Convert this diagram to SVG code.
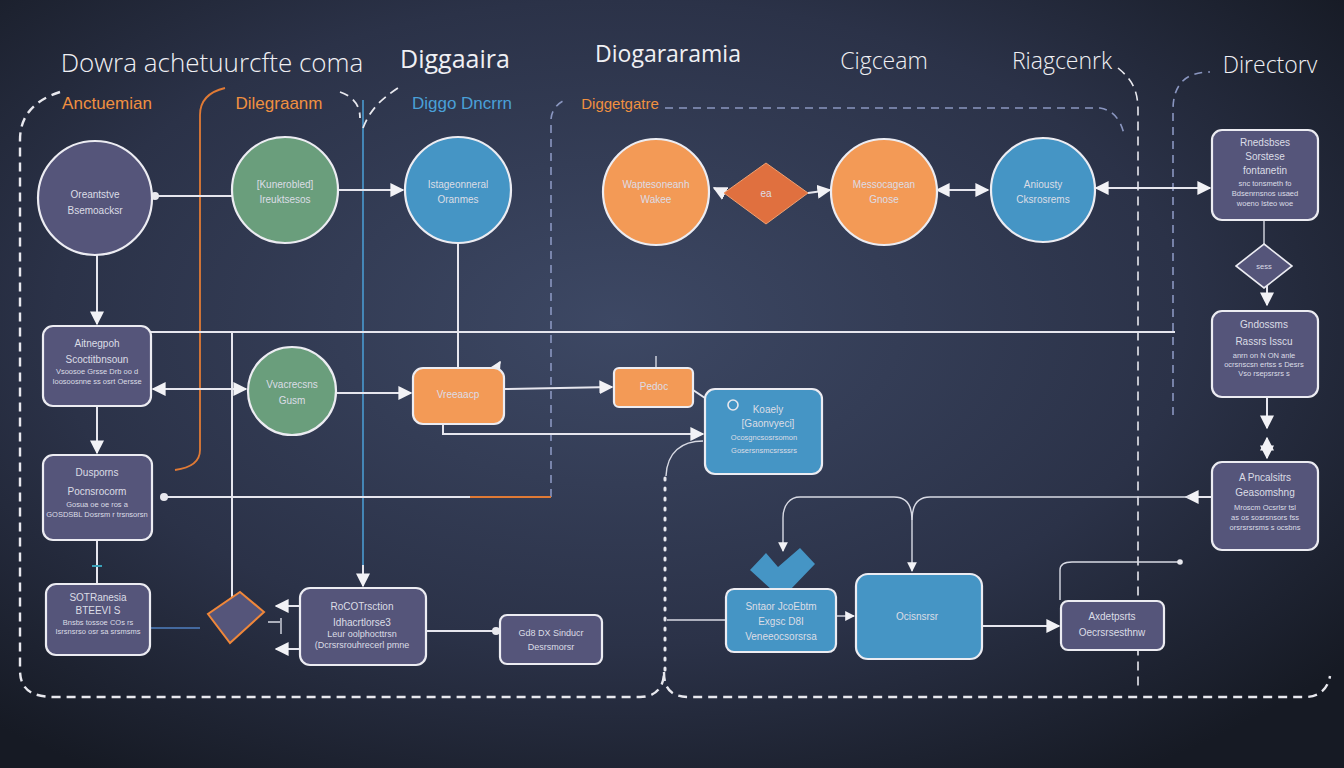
<svg xmlns="http://www.w3.org/2000/svg" width="1344" height="768" viewBox="0 0 1344 768">
<defs>
<radialGradient id="bg" cx="0.46" cy="0.42" r="0.7">
<stop offset="0" stop-color="#3d4864"/>
<stop offset="0.6" stop-color="#2b3248"/>
<stop offset="1" stop-color="#161a24"/>
</radialGradient>
<marker id="ah" viewBox="0 0 10 10" refX="9" refY="5" markerWidth="7" markerHeight="7" orient="auto-start-reverse">
<path d="M0,0 L10,5 L0,10 z" fill="#f2f2f6"/>
</marker>
<marker id="dot" viewBox="0 0 10 10" refX="5" refY="5" markerWidth="5" markerHeight="5">
<circle cx="5" cy="5" r="4" fill="#e8e8ee"/>
</marker>
</defs>
<style>
.nd{stroke:#ececf2;stroke-width:2.2}
.pu{fill:#55557a}
.gr{fill:#6a9e7c}
.bl{fill:#4595c5}
.or{fill:#f39a56}
.od{fill:#e0703f}
.ln{fill:none;stroke:#e6e6ee;stroke-width:2}
.th{fill:none;stroke:#d8dae4;stroke-width:1.4}
.ds{fill:none;stroke:#e8e8ee;stroke-width:2.4;stroke-dasharray:9 6}
.dt{fill:none;stroke:#e8e8ee;stroke-width:3;stroke-dasharray:2 8;stroke-linecap:round}
.dsb{fill:none;stroke:#8a96c0;stroke-width:1.6;stroke-dasharray:8 6}
.ttl{font-family:"Open Sans","DejaVu Sans",sans-serif;font-weight:300;fill:#f0f0f4;font-size:25px;text-anchor:middle}
.sub{font-family:"Liberation Sans",Arial,sans-serif;font-size:17px;text-anchor:middle}
.t1{font-family:"Liberation Sans",Arial,sans-serif;font-size:10px;fill:#dcdde6;text-anchor:middle}
.t2{font-family:"Liberation Sans",Arial,sans-serif;font-size:7.5px;fill:#dcdde6;text-anchor:middle}
</style>
<rect width="1344" height="768" fill="url(#bg)"/>

<g id="titles">
<text class="ttl" x="212" y="72" style="font-size:26px">Dowra achetuurcfte coma</text>
<text class="ttl" x="455" y="68" style="font-weight:400">Diggaaira</text>
<text class="ttl" x="668" y="62" style="font-weight:400;font-size:23px">Diogararamia</text>
<text class="ttl" x="884" y="69" style="font-size:23px">Cigceam</text>
<text class="ttl" x="1062" y="69" style="font-size:23px">Riagcenrk</text>
<text class="ttl" x="1270" y="73" style="font-size:23px">Directorv</text>
<text class="sub" x="107" y="109" fill="#f09040">Anctuemian</text>
<text class="sub" x="279" y="109" fill="#f09040">Dilegraanm</text>
<text class="sub" x="462" y="109" fill="#4aa0d8">Diggo Dncrrn</text>
<text class="sub" x="620" y="109" fill="#f09040" style="font-size:15px">Diggetgatre</text>
</g>

<g id="containers">
<path class="ds" d="M60,92 C35,100 20,115 20,140 L20,670 C20,690 32,697 55,697 L640,697 C655,697 664,688 664,672"/>
<path class="dt" d="M665,478 L665,672"/>
<path class="ds" d="M664,672 C664,690 672,697 690,697 L1305,697 C1320,697 1328,688 1330,676"/>
<path class="ds" d="M1118,68 C1130,78 1138,88 1138,110 L1138,690" style="stroke-width:1.6"/>
<path class="dsb" d="M1173,415 L1173,110 C1173,85 1185,72 1210,72"/>
<path class="dsb" d="M665,108 L1100,108 C1112,110 1120,118 1124,134"/>
<path class="dsb" d="M551,497 L551,120 C551,112 556,104 565,100"/>
<path d="M470,497 L551,497" fill="none" stroke="#e07a35" stroke-width="2"/>
<path class="ln" d="M363,100 L363,585" style="stroke:#4a9ad0;stroke-width:1.6"/>
<path class="ds" d="M363,128 C370,110 380,100 398,88" style="stroke-width:1.8"/>
<path d="M225,88 C208,92 200,102 200,115 L200,450 C200,462 190,468 175,470" fill="none" stroke="#e07a35" stroke-width="1.8"/>
<path class="ds" d="M340,92 C352,96 360,104 360,118" style="stroke-width:1.8"/>
<path class="th" d="M703,441 C682,441 667,452 666,476"/>
</g>

<g id="connectors">
<path class="ln" d="M232,196 L155,196" marker-end="url(#dot)"/>
<path class="ln" d="M338,190 L403,190" marker-end="url(#ah)"/>
<path class="ln" d="M97,255 L97,324" marker-end="url(#ah)"/>
<path class="ln" d="M97,406 L97,453" marker-end="url(#ah)"/>
<path class="ln" d="M97,540 L97,584"/>
<path d="M92,566 L102,566" stroke="#3aa0b8" stroke-width="2"/>
<path class="ln" d="M151,332 L1175,332"/>
<path class="ln" d="M232,332 L232,600"/>
<path class="ln" d="M458,242 L458,368"/>
<path class="ln" d="M153,389 L246,389" marker-start="url(#ah)" marker-end="url(#ah)"/>
<path class="ln" d="M336,393 L411,393" marker-end="url(#ah)"/>
<path class="ln" d="M494,372 L500,362" marker-end="url(#ah)"/>
<path class="ln" d="M504,389 L612,387" marker-end="url(#ah)"/>
<path class="th" d="M656,356 L656,368"/>
<path class="ln" d="M443,424 L443,434 L703,434" marker-end="url(#ah)"/>
<path class="ln" d="M164,497 L470,497" marker-start="url(#dot)"/>
<path class="ln" d="M693,390 L705,398"/>
<path class="ln" d="M724,193 L714,188" marker-end="url(#ah)"/>
<path class="ln" d="M808,193 L830,190" marker-end="url(#ah)"/>
<path class="ln" d="M937,190 L988,190" marker-start="url(#ah)" marker-end="url(#ah)"/>
<path class="ln" d="M1096,188 L1210,188" marker-start="url(#ah)" marker-end="url(#ah)"/>
<path class="th" d="M1264,220 L1264,244"/>
<path class="ln" d="M1267,286 L1267,305" marker-end="url(#ah)"/>
<path class="ln" d="M1267,397 L1267,428" marker-end="url(#ah)"/>
<path class="ln" d="M1267,438 L1267,458" marker-start="url(#ah)" marker-end="url(#ah)"/>
<path class="ln" d="M1212,497 L1186,497" marker-end="url(#ah)"/>
<path class="th" d="M1190,497 L930,497 C918,497 912,505 912,520 L912,571" marker-end="url(#ah)"/>
<path class="th" d="M912,520 C912,505 906,497 894,497 L800,497 C790,497 783,505 783,518 L783,551" marker-end="url(#ah)"/>
<path class="th" d="M836,616 L854,616" marker-end="url(#ah)"/>
<path class="ln" d="M982,626 L1059,626" marker-end="url(#ah)"/>
<path class="th" d="M1060,600 L1060,570 C1060,564 1064,562 1072,562 L1180,562" marker-end="url(#dot)"/>
<path class="th" d="M667,620 L726,620"/>
<path class="ln" d="M363,565 L363,586" marker-end="url(#ah)"/>
<path class="ln" d="M300,606 L276,606" marker-end="url(#ah)"/>
<path class="ln" d="M300,649 L276,649" marker-end="url(#ah)"/>
<path class="ln" d="M426,631 L496,631" marker-end="url(#dot)"/>
<path d="M150,628 L200,628" stroke="#4f7fc0" stroke-width="1.6" fill="none"/>
<path class="th" d="M268,622 L280,622 M281,618 L281,634"/>
</g>

<g id="n-purple-circle"><circle class="nd pu" cx="95" cy="198" r="57"/><text class="t1" x="95" y="198">Oreantstve</text><text class="t1" x="95" y="214">Bsemoacksr</text></g>
<g id="n-green-circle"><circle class="nd gr" cx="285" cy="190" r="53"/><text class="t1" x="285" y="188">[Kunerobled]</text><text class="t1" x="285" y="203">Ireuktsesos</text></g>
<g id="n-blue-circle"><circle class="nd bl" cx="458" cy="190" r="53"/><text class="t1" x="458" y="188">Istageonneral</text><text class="t1" x="458" y="203">Oranmes</text></g>
<g id="n-orange-circle-1"><circle class="nd or" cx="656" cy="192" r="53"/><text class="t1" x="656" y="188">Waptesoneanh</text><text class="t1" x="656" y="203">Wakee</text></g>
<g id="n-orange-diamond"><path class="od" d="M766,163 L808,193 L766,224 L724,193 z" stroke="#f0a070" stroke-width="1"/><text class="t1" x="766" y="197">ea</text></g>
<g id="n-orange-circle-2"><circle class="nd or" cx="884" cy="192" r="53"/><text class="t1" x="884" y="188">Messocagean</text><text class="t1" x="884" y="203">Gnose</text></g>
<g id="n-blue-circle-2"><circle class="nd bl" cx="1043" cy="190" r="52"/><text class="t1" x="1043" y="188">Aniousty</text><text class="t1" x="1043" y="203">Cksrosrems</text></g>

<g id="n-right-1"><rect class="nd pu" x="1212" y="130" width="106" height="90" rx="10"/><text class="t1" x="1265" y="146">Rnedsbses</text><text class="t1" x="1265" y="160">Sorstese</text><text class="t1" x="1265" y="174">fontanetin</text><text class="t2" x="1265" y="186">snc tonsmeth fo</text><text class="t2" x="1265" y="196">Bdsenrnsnos usaed</text><text class="t2" x="1265" y="206">woeno Isteo woe</text></g>
<g id="n-right-diamond"><path class="nd pu" d="M1264,244 L1292,266 L1264,288 L1236,266 z" style="stroke-width:1.6"/><text class="t2" x="1264" y="269">sess</text></g>
<g id="n-right-2"><rect class="nd pu" x="1212" y="311" width="106" height="86" rx="10"/><text class="t1" x="1264" y="328">Gndossms</text><text class="t1" x="1264" y="345">Rassrs Isscu</text><text class="t2" x="1264" y="358">anrn on N ON anle</text><text class="t2" x="1264" y="367">ocrsnscsn ertss s Desrs</text><text class="t2" x="1264" y="376">Vso rsepsrsrs s</text></g>
<g id="n-right-3"><rect class="nd pu" x="1212" y="462" width="106" height="88" rx="10"/><text class="t1" x="1265" y="481">A Pncalsitrs</text><text class="t1" x="1265" y="496">Geasomshng</text><text class="t2" x="1265" y="510">Mroscm Ocsrlsr tsl</text><text class="t2" x="1265" y="520">as os sosrsnsors fss</text><text class="t2" x="1265" y="530">orsrsrsrsms s ocsbns</text></g>

<g id="n-left-1"><rect class="nd pu" x="43" y="326" width="108" height="80" rx="10"/><text class="t1" x="97" y="347">Aitnegpoh</text><text class="t1" x="97" y="363">Scoctitbnsoun</text><text class="t2" x="97" y="374">Vsoosoe Grsse Drb oo d</text><text class="t2" x="97" y="384">Ioosoosnne ss osrt Oersse</text></g>
<g id="n-left-2"><rect class="nd pu" x="43" y="455" width="109" height="85" rx="10"/><text class="t1" x="97" y="476">Dusporns</text><text class="t1" x="97" y="495">Pocnsrocorm</text><text class="t2" x="97" y="507">Gosua oe oe ros a</text><text class="t2" x="97" y="517">GOSDSBL Dosrsm r trsnsorsn</text></g>
<g id="n-left-3"><rect class="nd pu" x="46" y="584" width="104" height="71" rx="10"/><text class="t1" x="98" y="601">SOTRanesia</text><text class="t1" x="98" y="614">BTEEVI S</text><text class="t2" x="98" y="625">Bnsbs tossoe COs rs</text><text class="t2" x="98" y="634">Isrsnsrso osr sa srsmsms</text></g>

<g id="n-green-circle-2"><circle class="nd gr" cx="292" cy="391" r="44"/><text class="t1" x="292" y="388">Vvacrecsns</text><text class="t1" x="292" y="404">Gusm</text></g>
<g id="n-orange-rect"><rect class="nd or" x="413" y="368" width="91" height="56" rx="10"/><text class="t1" x="458" y="398">Vreeaacp</text></g>
<g id="n-orange-rect-2"><rect class="nd or" x="614" y="368" width="79" height="39" rx="5"/><text class="t1" x="654" y="390">Pedoc</text></g>
<g id="n-blue-rect"><rect class="nd bl" x="705" y="389" width="117" height="85" rx="10"/><text class="t1" x="768" y="413">Koaely</text><text class="t1" x="768" y="427">[Gaonvyeci]</text><text class="t2" x="764" y="440">Ocosgncsosrsomon</text><text class="t2" x="764" y="453">Gosersnsmcsrsssrs</text><circle cx="733" cy="405" r="5" fill="none" stroke="#e8e8ee" stroke-width="1.6"/></g>

<g id="n-orange-diamond-2"><path d="M240,592 L264,612 L230,643 L208,614 z" fill="#55557a" stroke="#f0873a" stroke-width="2"/></g>
<g id="n-center-rect"><rect class="nd pu" x="300" y="588" width="126" height="77" rx="10"/><text class="t1" x="362" y="610">RoCOTrsction</text><text class="t1" x="362" y="626">Idhacrtlorse3</text><text class="t2" x="362" y="637" style="font-size:9px">Leur oolphocttrsn</text><text class="t2" x="362" y="648" style="font-size:9px">(Dcrsrsrouhrecerl pmne</text></g>
<g id="n-small-rect"><rect class="nd pu" x="500" y="615" width="102" height="49" rx="7"/><text class="t2" x="551" y="636" style="font-size:9px">Gd8 DX Sinducr</text><text class="t2" x="551" y="650" style="font-size:9px">Desrsmorsr</text></g>

<g id="n-blue-check"><path d="M750,570 L766,553 L778,567 L800,548 L815,564 L790,590 L772,590 z" fill="#4595c5"/></g>
<g id="n-blue-rect-2"><rect class="nd bl" x="726" y="589" width="110" height="63" rx="8"/><text class="t1" x="781" y="610">Sntaor JcoEbtm</text><text class="t1" x="781" y="625">Exgsc D8I</text><text class="t1" x="781" y="640">Veneeocsorsrsa</text></g>
<g id="n-blue-big"><rect class="nd bl" x="856" y="574" width="126" height="85" rx="12"/><text class="t1" x="917" y="620">Ocisnsrsr</text></g>
<g id="n-purple-rect-r"><rect class="nd pu" x="1061" y="601" width="103" height="49" rx="7"/><text class="t1" x="1112" y="620">Axdetpsrts</text><text class="t1" x="1112" y="636">Oecrsrsesthnw</text></g>
</svg>
